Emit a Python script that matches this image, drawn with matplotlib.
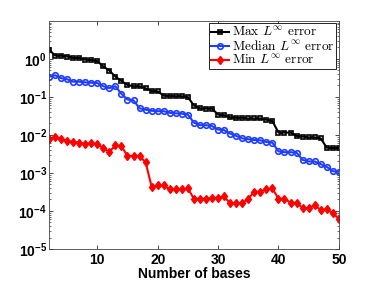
import numpy as np
import matplotlib
matplotlib.use("Agg")
import matplotlib.pyplot as plt

n_bases = list(range(2, 51))

max_err = [1.75, 1.22, 1.2, 1.15, 1.05, 1.05, 0.95, 0.93, 0.87, 0.63,
           0.49, 0.34, 0.26, 0.205, 0.19, 0.19, 0.168, 0.142, 0.14, 0.107,
           0.105, 0.104, 0.104, 0.099, 0.059, 0.050, 0.049, 0.049, 0.034, 0.033,
           0.029, 0.028, 0.028, 0.027, 0.027, 0.027, 0.025, 0.023, 0.0115, 0.0115,
           0.0115, 0.0094, 0.009, 0.0086, 0.0086, 0.0081, 0.0046, 0.0045, 0.0045]

median_err = [0.34, 0.37, 0.31, 0.29, 0.25, 0.25, 0.24, 0.235, 0.23, 0.19,
              0.17, 0.19, 0.12, 0.085, 0.081, 0.050, 0.046, 0.043, 0.042, 0.042,
              0.038, 0.037, 0.036, 0.034, 0.021, 0.018, 0.018, 0.017, 0.0138, 0.0133,
              0.0108, 0.0094, 0.0081, 0.0077, 0.0073, 0.0072, 0.0065, 0.0062, 0.0037, 0.0035,
              0.0035, 0.0034, 0.0022, 0.0020, 0.0020, 0.0017, 0.00144, 0.00111, 0.00107]

min_err = [0.0076, 0.0089, 0.0080, 0.0069, 0.0064, 0.0062, 0.0058, 0.0060, 0.0059, 0.0044,
           0.0036, 0.0053, 0.0050, 0.0028, 0.0028, 0.0028, 0.0019, 0.00043, 0.00047, 0.00047,
           0.00037, 0.00037, 0.00037, 0.00039, 0.00021, 0.00021, 0.00021, 0.00022, 0.00022, 0.00024,
           0.000158, 0.000158, 0.000158, 0.00021, 0.00032, 0.00032, 0.00038, 0.00039, 0.00021, 0.00021,
           0.000165, 0.000165, 0.00012, 0.00012, 0.00014, 0.000107, 0.00011, 0.000088, 0.000062]

plt.rcParams["mathtext.fontset"] = "cm"

fig = plt.figure(figsize=(3.74, 2.81), dpi=100)
ax = fig.add_axes([0.131, 0.114, 0.775, 0.812])

ax.semilogy(n_bases, max_err, "-s", color="black", lw=1.5, ms=3.5,
            mfc="none", mew=1.2, label=r"Max $L^\infty$ error")
ax.semilogy(n_bases, median_err, "-o", color="#1f3dff", lw=1.5, ms=4,
            mfc="none", mew=1.2, label=r"Median $L^\infty$ error")
ax.semilogy(n_bases, min_err, "-d", color="red", lw=1.5, ms=4.5,
            mfc="red", mew=1.0, label=r"Min $L^\infty$ error")

ax.set_xlim(2, 50)
ax.set_ylim(1e-5, 1e1)
ax.set_xticks([10, 20, 30, 40, 50])
ax.set_yticks([1e-5, 1e-4, 1e-3, 1e-2, 1e-1, 1e0])
ax.tick_params(which="both", direction="in", top=True, right=True)
ax.tick_params(which="major", length=3, width=0.5)
ax.tick_params(which="minor", length=1.5, width=0.4)
ax.tick_params(axis="y", which="major", pad=1.5)
ax.tick_params(axis="x", which="major", pad=3)
for lab in ax.get_xticklabels() + ax.get_yticklabels():
    lab.set_fontweight("bold")
    lab.set_fontfamily("Liberation Sans")
    lab.set_fontsize(10)
for s in ax.spines.values():
    s.set_linewidth(0.6)
    s.set_color("#444444")

ax.set_xlabel("Number of bases", fontweight="bold", fontfamily="Liberation Sans",
              fontsize=10, labelpad=0)

leg = ax.legend(loc="upper right", prop={"family": "cmr10", "size": 9.6},
                fancybox=False, framealpha=1, edgecolor="black",
                borderpad=0.1, labelspacing=0.0, handlelength=1.4,
                handletextpad=0.2, borderaxespad=0.2)
leg.get_frame().set_linewidth(0.6)

fig.savefig("out.png", dpi=100)
